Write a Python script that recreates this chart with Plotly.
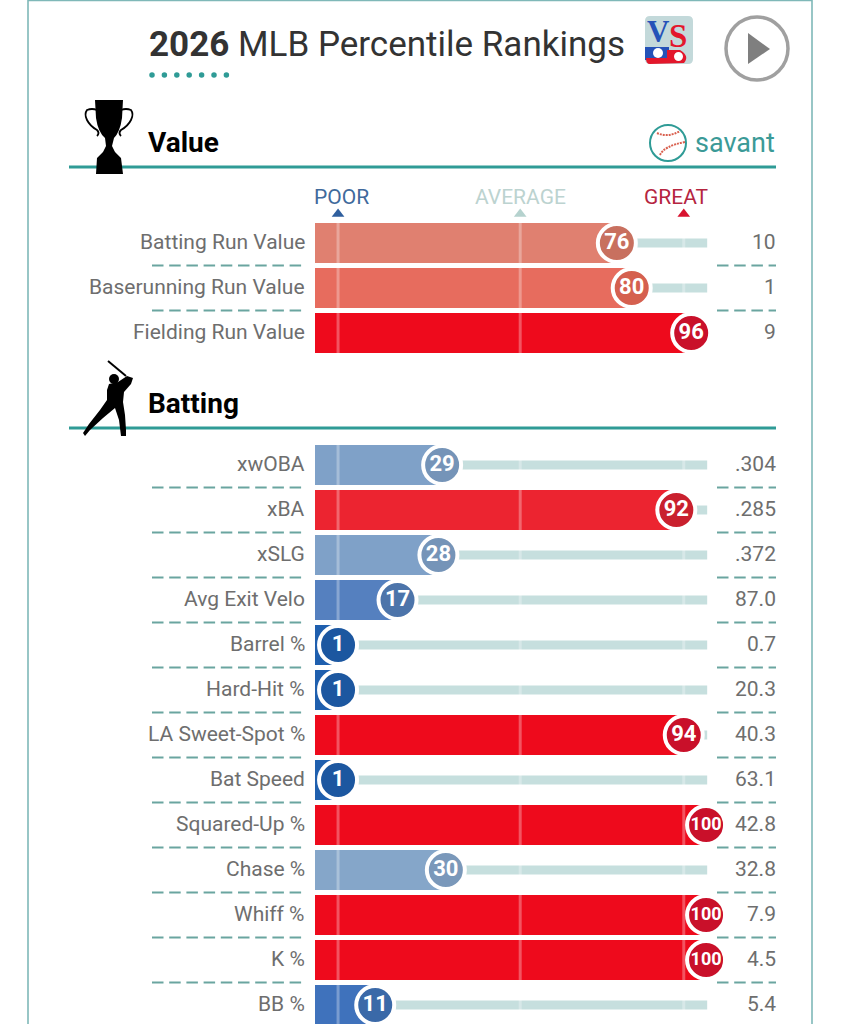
import plotly.graph_objects as go

# section rows
value_labels = ['Batting Run Value', 'Baserunning Run Value', 'Fielding Run Value']
value_pct = [76, 80, 96]
value_stats = ['10', '1', '9']

batting_labels = ['xwOBA', 'xBA', 'xSLG', 'Avg Exit Velo', 'Barrel %', 'Hard-Hit %', 'LA Sweet-Spot %',
                  'Bat Speed', 'Squared-Up %', 'Chase %', 'Whiff %', 'K %', 'BB %']
batting_pct = [29, 92, 28, 17, 1, 1, 94, 1, 100, 30, 100, 100, 11]
batting_stats = ['.304', '.285', '.372', '87.0', '0.7', '20.3', '40.3', '63.1', '42.8', '32.8', '7.9', '4.5', '5.4']

# scale markers
scale_labels = ['POOR', 'AVERAGE', 'GREAT']
scale_pct = [1, 50, 94]
scale_shift = [3, 0, -7]
scale_colors = ['#3f6a9c', '#bcd3d0', '#b5253f']

# bar / circle colour by percentile
bar_colors = {1: '#1f5fae', 11: '#3f72bc', 17: '#5580bf', 28: '#7fa1c8', 29: '#7fa1c8', 30: '#85a6c9',
              76: '#e08070', 80: '#e76c5e', 92: '#ec2430', 94: '#ee0a1c', 96: '#ee0a1c', 100: '#ee0a1c'}
dot_colors = {1: '#1c57a0', 11: '#3a69a8', 17: '#4c74aa', 28: '#7594b8', 29: '#7594b8', 30: '#7a98ba',
              76: '#c8705f', 80: '#d5604f', 92: '#c9202e', 94: '#c9102a', 96: '#c9102a', 100: '#c9102a'}

WIDTH = 841
HEIGHT = 1024
BAR_START = -5.2
ROW_STEP = 45
VALUE_TOP = 243
BATTING_TOP = 465
TEAL = '#2f9b96'
GRAY = '#6e6e6e'

labels = value_labels + batting_labels
pct = value_pct + batting_pct
stats = value_stats + batting_stats
rows = [VALUE_TOP + ROW_STEP * i for i in range(len(value_pct))] + \
       [BATTING_TOP + ROW_STEP * i for i in range(len(batting_pct))]

fig = go.Figure()

# background tracks
fig.add_trace(go.Bar(
    y=rows, x=[100.3 - p for p in pct], base=pct, orientation='h', width=9,
    marker=dict(color='#c6dfde', line_width=0), hoverinfo='skip'
))
# percentile bars
fig.add_trace(go.Bar(
    y=rows, x=[p - BAR_START for p in pct], base=BAR_START, orientation='h', width=40,
    marker=dict(color=[bar_colors[p] for p in pct], line_width=0)
))

# faint vertical guides at poor / average / great
for s in scale_pct:
    xs, ys = [], []
    for r in rows:
        xs += [s, s, None]
        ys += [r - 20, r + 20, None]
    fig.add_trace(go.Scatter(x=xs, y=ys, mode='lines', line=dict(color='rgba(255,255,255,0.3)', width=3),
                             hoverinfo='skip'))

fig.add_trace(go.Scatter(
    x=pct, y=rows, mode='markers+text', text=[str(p) for p in pct],
    textposition='middle center',
    textfont=dict(family='Roboto', color='white', size=[18 if p == 100 else 22 for p in pct], weight='bold'),
    marker=dict(size=38, color=[dot_colors[p] for p in pct], line=dict(color='white', width=4)),
    cliponaxis=False
))

# scale triangles
fig.add_trace(go.Scatter(
    x=scale_pct, y=[214] * 3, mode='markers',
    marker=dict(symbol='triangle-up', size=11, color=['#2f5f9e', '#b5d2ce', '#d8132f'], line_width=0)
))
for s, name, c, shift in zip(scale_pct, scale_labels, scale_colors, scale_shift):
    fig.add_annotation(x=s, y=197, text=name, showarrow=False, font=dict(family='Roboto', size=21, color=c),
                       xanchor='center', yanchor='middle', xshift=shift)

shapes = []
for r, lab, st in zip(rows, labels, stats):
    fig.add_annotation(x=307, y=r - 1, xref='x2', yref='y2', text=lab, showarrow=False, xanchor='right',
                       font=dict(family='Roboto', size=21, color=GRAY))
    fig.add_annotation(x=778, y=r - 1, xref='x2', yref='y2', text=st, showarrow=False, xanchor='right',
                       font=dict(family='Roboto', size=21, color=GRAY))

# dashed separators between rows
for r in rows:
    if r + ROW_STEP not in rows:
        continue
    for x0, x1 in [(152, 305), (717, 776)]:
        shapes.append(dict(type='line', xref='x2', yref='y2', x0=x0, x1=x1, y0=r + 22.5, y1=r + 22.5,
                           line=dict(color='#6aa5a0', width=2, dash='11.5px,5.7px')))

# frame
shapes.append(dict(type='path', xref='x2', yref='y2', path='M28,1030 L28,0.5 L812,0.5 L812,1030',
                   line=dict(color='#7fb8b8', width=1.6)))

# section rules
for y in [167, 428]:
    shapes.append(dict(type='line', xref='x2', yref='y2', x0=69, x1=776, y0=y, y1=y,
                       line=dict(color=TEAL, width=3)))

# trophy
shapes.append(dict(type='path', xref='x2', yref='y2', fillcolor='black', line_width=0,
                   path='M95,100 L123,100 L122,118 Q120,132 114,138 L112,146 L115,152 L121,158 L123,174 L96,174 '
                        'L97,158 L103,152 L106,146 L105,138 Q98,132 96,118 Z'))
shapes.append(dict(type='path', xref='x2', yref='y2', line=dict(color='black', width=1.8),
                   path='M97,110 Q92,108 87,110 Q84,114 87,120 Q90,126 97,130 Q100,133 97,136'))
shapes.append(dict(type='path', xref='x2', yref='y2', line=dict(color='black', width=1.8),
                   path='M121,110 Q126,108 131,110 Q134,114 131,120 Q128,126 121,130 Q118,133 121,136'))

# batter
shapes.append(dict(type='line', xref='x2', yref='y2', x0=108, y0=361, x1=126, y1=376,
                   line=dict(color='black', width=2)))
shapes.append(dict(type='circle', xref='x2', yref='y2', x0=109, x1=119, y0=374, y1=384,
                   fillcolor='black', line_width=0))
shapes.append(dict(type='path', xref='x2', yref='y2', fillcolor='black', line_width=0,
                   path='M109,384 L118,382 L127,376 L133,378 L131,384 L124,392 L123,402 L125,415 L126,430 '
                        'L126,436 L121,436 L119,420 L115,408 L103,418 L90,430 L85,436 L83,433 L89,424 '
                        'L100,410 L107,400 L107,390 Z'))

# savant ball
shapes.append(dict(type='circle', xref='x2', yref='y2', x0=650, x1=686, y0=125, y1=161,
                   line=dict(color=TEAL, width=2)))
shapes.append(dict(type='path', xref='x2', yref='y2', line=dict(color='#d9604f', width=2, dash='2px,1px'),
                   path='M657,133 Q668,138 680,131'))
shapes.append(dict(type='path', xref='x2', yref='y2', line=dict(color='#d9604f', width=2, dash='2px,1px'),
                   path='M660,155 Q664,146 685,142'))

# VS logo
shapes.append(dict(type='path', xref='x2', yref='y2', fillcolor='#c3d9da', line_width=0,
                   path='M650,16 L688,16 Q693,16 693,21 L693,59 Q693,64 688,64 L650,64 Q645,64 645,59 L645,21 Q645,16 650,16 Z'))
shapes.append(dict(type='path', xref='x2', yref='y2', fillcolor='#2452b8', line_width=0,
                   path='M645,47 L669,47 L669,60 L645,60 Z'))
shapes.append(dict(type='path', xref='x2', yref='y2', fillcolor='#e3172b', line_width=0,
                   path='M667,50 L680,50 Q690,56 684,63 L650,64 Q646,64 646,58 L667,58 Z'))
shapes.append(dict(type='circle', xref='x2', yref='y2', x0=653, x1=663, y0=48, y1=58, fillcolor='white', line_width=0))
shapes.append(dict(type='circle', xref='x2', yref='y2', x0=674, x1=683, y0=52, y1=61, fillcolor='white', line_width=0))
fig.add_annotation(x=658, y=31, xref='x2', yref='y2', text='<b>V</b>', showarrow=False,
                   font=dict(family='Liberation Serif', size=31, color='#2452b8'))
fig.add_annotation(x=678, y=36, xref='x2', yref='y2', text='<b>S</b>', showarrow=False,
                   font=dict(family='Liberation Serif', size=33, color='#e3172b'))

# play button
shapes.append(dict(type='circle', xref='x2', yref='y2', x0=726, x1=788, y0=17, y1=80,
                   line=dict(color='#a0a0a0', width=3.5)))
shapes.append(dict(type='path', xref='x2', yref='y2', fillcolor='#7f7f7f', line_width=0,
                   path='M748,33 L770,49 L748,64 Z'))

# title underline dots
fig.add_trace(go.Scatter(
    x=[152 + 12.4 * i for i in range(7)], y=[75] * 7, xaxis='x2', yaxis='y2', mode='markers',
    marker=dict(size=5.5, color=TEAL), hoverinfo='skip'
))

fig.add_annotation(x=147, y=44, xref='x2', yref='y2', text='<b>2026</b> MLB Percentile Rankings',
                   showarrow=False, xanchor='left', font=dict(family='Roboto', size=35, color='#333333'))
fig.add_annotation(x=146, y=142, xref='x2', yref='y2', text='<b>Value</b>', showarrow=False, xanchor='left',
                   font=dict(family='Roboto', size=28, color='black'))
fig.add_annotation(x=146, y=403, xref='x2', yref='y2', text='<b>Batting</b>', showarrow=False, xanchor='left',
                   font=dict(family='Roboto', size=28, color='black'))
fig.add_annotation(x=777, y=143, xref='x2', yref='y2', text='savant', showarrow=False, xanchor='right',
                   font=dict(family='Roboto', size=27, color='#3b9a97'))

fig.update_layout(
    width=WIDTH, height=HEIGHT, margin=dict(l=0, r=0, t=0, b=0),
    paper_bgcolor='white', plot_bgcolor='white', showlegend=False, barmode='overlay',
    shapes=shapes,
    xaxis=dict(range=[-89.94, 136.3], visible=False, domain=[0, 1]),
    yaxis=dict(range=[HEIGHT, 0], visible=False),
    xaxis2=dict(range=[0, WIDTH], visible=False, overlaying='x', anchor='y2'),
    yaxis2=dict(range=[HEIGHT, 0], visible=False, overlaying='y', anchor='x2'),
)

fig.write_html("out.html", config=dict(displayModeBar=False),
               post_script="document.body.style.margin='0';document.documentElement.style.overflow='hidden';")
